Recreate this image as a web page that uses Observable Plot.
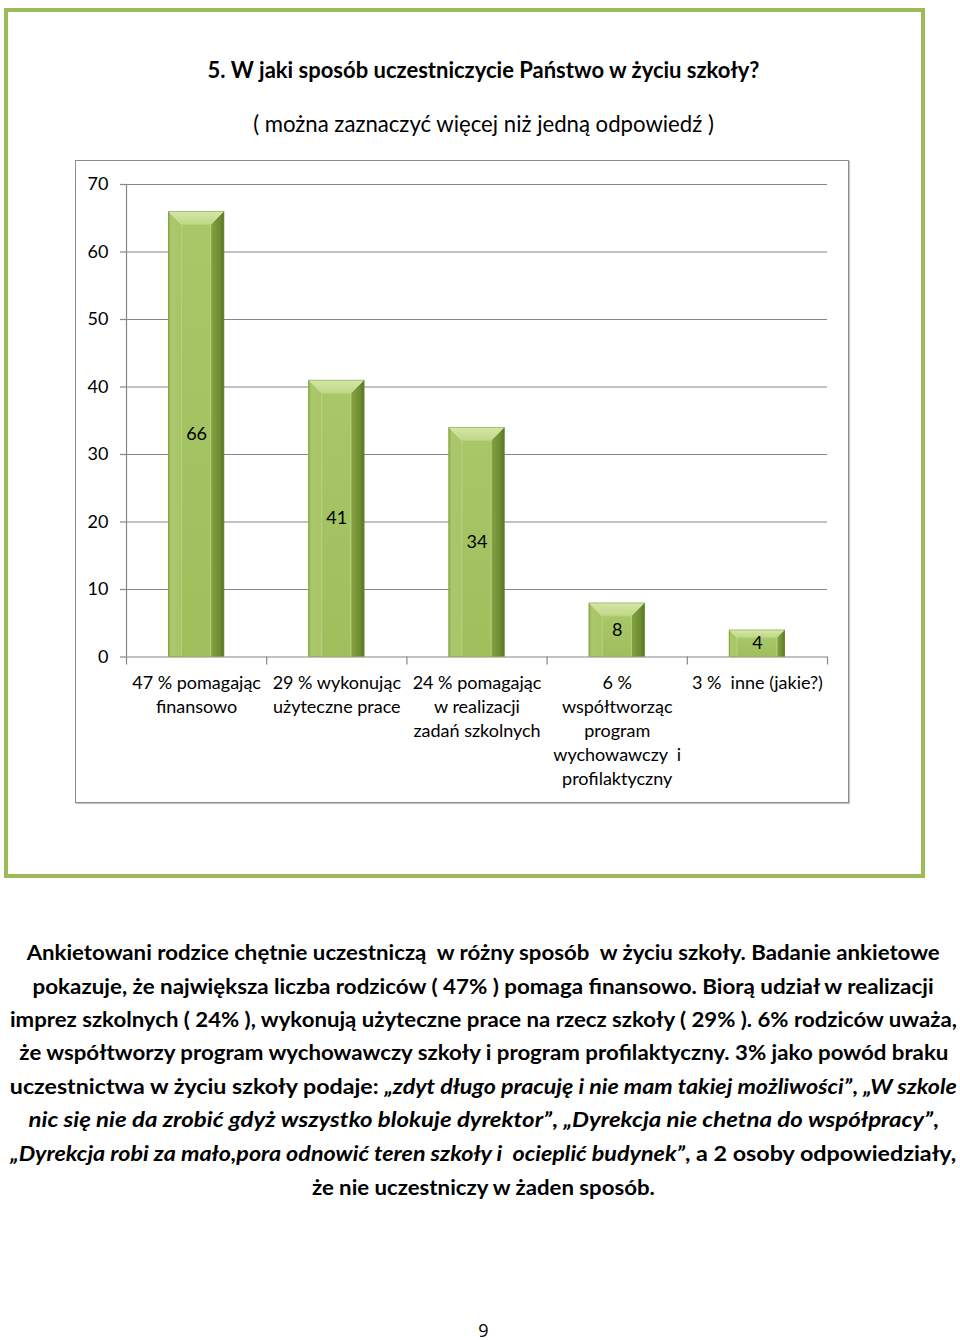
<!DOCTYPE html>
<html>
<head>
<meta charset="utf-8">
<script src="https://cdn.jsdelivr.net/npm/d3@7"></script>
<script src="https://cdn.jsdelivr.net/npm/@observablehq/plot@0.6"></script>
<style>
  html, body { margin: 0; padding: 0; background: #fff; }
  body { width: 960px; height: 1340px; position: relative; overflow: hidden; font-family: Lato, "Open Sans", sans-serif; color: #000; }
  .abs { position: absolute; }
  #frame { left: 4px; top: 8px; width: 921px; height: 870px; border: 4px solid #9bbb59; box-sizing: border-box; }
  #chartbox { left: 75px; top: 160px; width: 774px; height: 643px; border: 1.5px solid #8c8c8c; box-sizing: border-box; box-shadow: 1px 1px 1px #c8c8c8; background: #fff; }
  #chart { left: 75px; top: 160px; width: 774px; height: 643px; }
  .line { position: absolute; left: 0; width: 967px; text-align: center; white-space: nowrap; }
  .line span { display: inline-block; transform-origin: 50% 50%; }
  #title { top: 56px; height: 28px; line-height: 28px; font-weight: 700; }
  #subtitle { top: 110px; height: 28px; line-height: 28px; }
  .body { font-weight: 700; height: 30px; line-height: 30px; font-size: 20.5px; }
  #page { top: 1318px; height: 24px; line-height: 24px; font-size: 18px; font-family: "Open Sans", Lato, sans-serif; }
</style>
</head>
<body>
<div id="frame" class="abs"></div>
<div id="chartbox" class="abs"></div>
<div id="chart" class="abs"></div>
<div id="title" class="line"><span></span></div>
<div id="subtitle" class="line"><span></span></div>
<div id="bodytext"></div>
<div id="page" class="line"><span></span></div>
<script>
// ---- data ----
const titleText = "5. W jaki sposób uczestniczycie Państwo w życiu szkoły?";
const subtitleText = "( można zaznaczyć więcej niż jedną odpowiedź )";
const categories = [
  "47 % pomagając\nfinansowo",
  "29 % wykonując\nużyteczne prace",
  "24 % pomagając\nw realizacji\nzadań szkolnych",
  "6 %\nwspółtworząc\nprogram\nwychowawczy  i\nprofilaktyczny",
  "3 %  inne (jakie?)"
];
const values = [66, 41, 34, 8, 4];
const yTicks = [0, 10, 20, 30, 40, 50, 60, 70];
const bodyLines = [
  "Ankietowani rodzice chętnie uczestniczą  w różny sposób  w życiu szkoły. Badanie ankietowe",
  "pokazuje, że największa liczba rodziców ( 47% ) pomaga finansowo. Biorą udział w realizacji",
  "imprez szkolnych ( 24% ), wykonują użyteczne prace na rzecz szkoły ( 29% ). 6% rodziców uważa,",
  "że współtworzy program wychowawczy szkoły i program profilaktyczny. 3% jako powód braku",
  "uczestnictwa w życiu szkoły podaje: <i>„zdyt długo pracuję i nie mam takiej możliwości”</i>, <i>„W szkole</i>",
  "<i>nic się nie da zrobić gdyż wszystko blokuje dyrektor”</i>, <i>„Dyrekcja nie chetna do współpracy”</i>,",
  "<i>„Dyrekcja robi za mało,pora odnowić teren szkoły i  ocieplić budynek”</i>, a 2 osoby odpowiedziały,",
  "że nie uczestniczy w żaden sposób."
];
const pageNumber = "9";

// ---- text ----
document.querySelector("#title span").textContent = titleText;
document.querySelector("#subtitle span").textContent = subtitleText;
document.querySelector("#page span").textContent = pageNumber;

const bodyTop = [937, 971, 1004, 1037, 1071, 1104, 1138, 1172];
const bodyTargets = [913, 901, 947, 929, 947, 910, 946, 343];
const bodyEl = document.getElementById("bodytext");
bodyLines.forEach((t, k) => {
  const d = document.createElement("div");
  d.className = "line body";
  d.style.top = bodyTop[k] + "px";
  d.innerHTML = "<span>" + t.replace(/  /g, " &nbsp;") + "</span>";
  bodyEl.appendChild(d);
});

function fitSpan(span, target) {
  span.style.fontSize = "20px";
  const w = span.getBoundingClientRect().width;
  span.style.fontSize = (20 * target / w) + "px";
}
fitSpan(document.querySelector("#title span"), 552);
fitSpan(document.querySelector("#subtitle span"), 461);
[...bodyEl.querySelectorAll("span")].forEach((s, k) => {
  const w = s.getBoundingClientRect().width;
  s.style.transform = `scaleX(${bodyTargets[k] / w})`;
});

// ---- chart ----
const data = values.map((v, i) => ({i, label: categories[i], value: v}));
const base = 42;

const defs = () => {
  const g = d3.create("svg:defs");
  g.html(`
    <linearGradient id="gLeft" x1="0" x2="1" y1="0" y2="0">
      <stop offset="0" stop-color="#8fae4d"/>
      <stop offset="0.25" stop-color="#abc96c"/>
      <stop offset="1" stop-color="#a6c567"/>
    </linearGradient>
    <linearGradient id="gRight" x1="0" x2="1" y1="0" y2="0">
      <stop offset="0" stop-color="#84a343"/>
      <stop offset="0.7" stop-color="#6c8b30"/>
      <stop offset="1" stop-color="#557222"/>
    </linearGradient>
    <linearGradient id="gTop" x1="0" x2="0" y1="0" y2="1">
      <stop offset="0" stop-color="#d4e7a8"/>
      <stop offset="1" stop-color="#bfd786"/>
    </linearGradient>
    <linearGradient id="gFace" x1="0" x2="0" y1="0" y2="1">
      <stop offset="0" stop-color="#a8c767"/>
      <stop offset="1" stop-color="#9fbf5d"/>
    </linearGradient>`);
  return g.node();
};

function bevelBars(index, scales, values, dimensions, context) {
  const g = d3.create("svg:g");
  for (const i of index) {
    const L = Math.min(values.x1[i], values.x2[i]) + base;
    const R = Math.max(values.x1[i], values.x2[i]) - base;
    const T = Math.min(values.y1[i], values.y2[i]);
    const B = Math.max(values.y1[i], values.y2[i]);
    const b = Math.min(13.5, (B - T) * 0.3);
    const pts = a => a.map(p => p.join(",")).join(" ");
    g.append("polygon").attr("points", pts([[L, T], [L + b, T + b], [L + b, B], [L, B]])).attr("fill", "url(#gLeft)");
    g.append("polygon").attr("points", pts([[R, T], [R - b, T + b], [R - b, B], [R, B]])).attr("fill", "url(#gRight)");
    g.append("polygon").attr("points", pts([[L, T], [R, T], [R - b, T + b], [L + b, T + b]])).attr("fill", "url(#gTop)");
    g.append("rect").attr("x", L + b).attr("y", T + b).attr("width", R - L - 2 * b).attr("height", B - T - b)
      .attr("fill", "url(#gFace)").attr("stroke", "#b6d07c").attr("stroke-width", 1);
    g.append("rect").attr("x", L + 0.5).attr("y", T + 0.5).attr("width", R - L - 1).attr("height", B - T - 0.5)
      .attr("fill", "none").attr("stroke", "#7a9a3a").attr("stroke-width", 0.8).attr("stroke-opacity", 0.6);
  }
  return g.node();
}

const chart = Plot.plot({
  width: 774,
  height: 643,
  marginLeft: 51,
  marginRight: 22,
  marginTop: 24,
  marginBottom: 146.5,
  x: {type: "linear", domain: [0, 5], axis: null},
  y: {domain: [0, 70], axis: null},
  style: {fontFamily: "Lato, 'Open Sans', sans-serif", fontSize: "18px", color: "#000", background: "transparent", overflow: "visible"},
  marks: [
    defs,
    Plot.gridY(yTicks.filter(d => d > 0), {stroke: "#868686", strokeOpacity: 1, strokeWidth: 1.2}),
    Plot.axisY(yTicks, {label: null, tickSize: 6, tickPadding: 12, stroke: "#868686", strokeWidth: 1.2, fill: "#000", fontSize: 18, tickFormat: d => String(d)}),
    Plot.ruleX([0], {y1: 0, y2: 70, stroke: "#868686", strokeWidth: 1.2}),
    Plot.axisX([0, 1, 2, 3, 4, 5], {label: null, tickSize: 8, tickFormat: () => "", stroke: "#868686", strokeWidth: 1.2}),
    Plot.ruleY([0], {x1: 0, x2: 5, stroke: "#868686", strokeWidth: 1.2}),
    Plot.rectY(data, {x1: d => d.i, x2: d => d.i + 1, y1: 0, y2: "value", insetLeft: base, insetRight: base, fill: "#9bbb59", render: bevelBars}),
    Plot.text(data, {x: d => d.i + 0.5, y: d => d.value / 2, text: d => String(d.value), fontSize: 18, fill: "#000"}),
    Plot.text(data, {x: d => d.i + 0.5, y: 0, text: "label", lineAnchor: "top", dy: 15, lineHeight: 1.333, fontSize: 18, fill: "#000"})
  ]
});
document.getElementById("chart").appendChild(chart);
</script>
</body>
</html>
